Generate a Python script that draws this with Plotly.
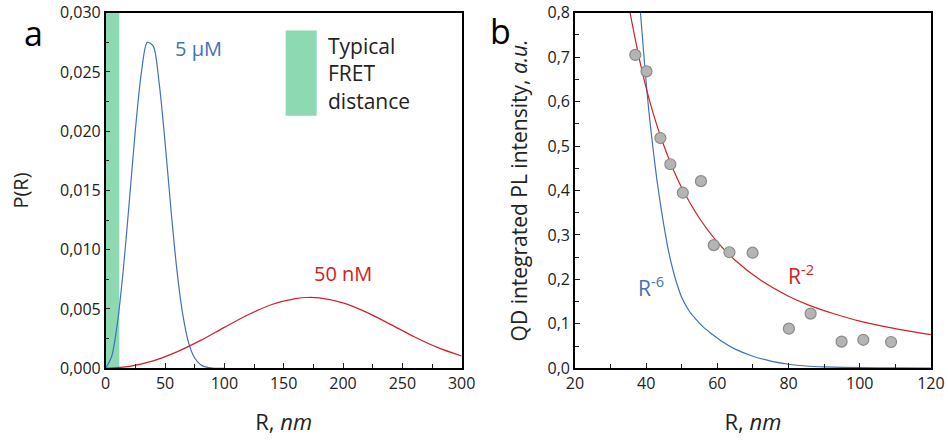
import plotly.graph_objects as go

# ---- Panel a: nearest-neighbour distance distributions P(R) ----
r_a = [0, 5, 10, 15, 20, 25, 30, 35, 40, 45, 50, 55, 60, 65, 70, 75, 80, 85, 90, 95, 100]
p_5uM = [0.0, 0.00099, 0.0039, 0.0085, 0.0142, 0.0201, 0.0249, 0.0275, 0.0272, 0.0241,
         0.0191, 0.0134, 0.0083, 0.0045, 0.0021, 0.00086, 0.0003, 0.00009, 0.00002, 0.0, 0.0]

r_b = [0, 20, 40, 60, 80, 100, 120, 140, 160, 170, 180, 200, 220, 240, 260, 280, 300]
p_50nM = [0.0, 0.00016, 0.00062, 0.00138, 0.00235, 0.00345, 0.00451, 0.00538, 0.00588,
          0.00597, 0.00593, 0.00551, 0.00471, 0.0037, 0.00266, 0.00174, 0.00103]

fret_max_nm = 11.5

# ---- Panel b: QD integrated PL intensity vs R ----
r_meas = [36.95, 40.1, 44.0, 46.8, 50.3, 55.4, 59.0, 63.4, 69.9, 80.1, 86.2, 94.9, 101.0, 108.8]
i_meas = [0.705, 0.668, 0.518, 0.459, 0.395, 0.421, 0.277, 0.261, 0.260, 0.089, 0.123,
          0.060, 0.064, 0.059]

r_fit2 = [35.0, 36.0, 38.0, 40.0, 42.0, 44.0, 47.0, 50.0, 55.0, 60.0, 65.0, 72.0, 80.0,
          86.0, 93.0, 100.0, 110.0, 120.0]
i_fit2 = [0.822, 0.778, 0.699, 0.631, 0.573, 0.523, 0.459, 0.406, 0.337, 0.284, 0.243,
          0.199, 0.162, 0.141, 0.122, 0.106, 0.089, 0.0755]

r_fit6 = [38.0, 38.4, 39.0, 39.6, 40.2, 41.0, 42.0, 43.0, 44.0, 45.0, 46.0, 47.0, 48.0,
          49.0, 50.0, 52.0, 54.0, 56.0, 58.0, 61.0, 65.0, 70.0, 75.0, 80.0, 85.0, 90.0,
          100.0, 110.0, 120.0]
i_fit6 = [0.86, 0.80, 0.74, 0.68, 0.625, 0.56, 0.49, 0.425, 0.37, 0.32, 0.275, 0.238,
          0.207, 0.181, 0.159, 0.13, 0.11, 0.093, 0.080, 0.062, 0.043, 0.027, 0.016,
          0.009, 0.005, 0.003, 0.0012, 0.0006, 0.0003]

BLUE = "#3f72b8"
RED = "#d32027"
GREEN = "#8dd9b2"
FONT = "Open Sans"

fig = go.Figure()

fig.add_trace(go.Scatter(x=r_a, y=p_5uM, mode="lines", line=dict(color=BLUE, width=1.2, shape="spline", smoothing=0.8),
                         xaxis="x", yaxis="y", showlegend=False))
fig.add_trace(go.Scatter(x=r_b, y=p_50nM, mode="lines", line=dict(color=RED, width=1.2, shape="spline", smoothing=0.8),
                         xaxis="x", yaxis="y", showlegend=False))

fig.add_trace(go.Scatter(x=r_fit6, y=i_fit6, mode="lines", line=dict(color=BLUE, width=1.2, shape="spline", smoothing=0.5),
                         xaxis="x2", yaxis="y2", showlegend=False))
fig.add_trace(go.Scatter(x=r_fit2, y=i_fit2, mode="lines", line=dict(color=RED, width=1.2, shape="spline", smoothing=0.6),
                         xaxis="x2", yaxis="y2", showlegend=False))
fig.add_trace(go.Scatter(x=r_meas, y=i_meas, mode="markers",
                         marker=dict(size=11, color="#b4b4b4", line=dict(color="#8a8a8a", width=1.2)),
                         xaxis="x2", yaxis="y2", showlegend=False))

axis_common = dict(showline=True, linecolor="black", linewidth=1.5, mirror=True,
                   ticks="inside", ticklen=5, tickwidth=1.2, tickcolor="#222",
                   showgrid=False, zeroline=False, automargin=False,
                   tickfont=dict(family=FONT, size=16, color="#222"))

fig.update_layout(
    width=948, height=441,
    margin=dict(l=0, r=0, t=0, b=0),
    paper_bgcolor="white", plot_bgcolor="white",
    separators=", ",
    xaxis=dict(domain=[0.1115, 0.487], range=[0, 300], dtick=50, anchor="y",
               minor=dict(ticks="inside", ticklen=4, dtick=25, tickcolor="#222"),
               title=dict(text="R, <i>nm</i>", font=dict(family=FONT, size=22, color="#222"), standoff=21),
               **axis_common),
    yaxis=dict(domain=[0.165, 0.9712], range=[0, 0.030], dtick=0.005, tickformat=".3f", anchor="x",
               minor=dict(ticks="inside", ticklen=4, dtick=0.0025, tickcolor="#222"),
               title=dict(text="P(R)", font=dict(family=FONT, size=20, color="#222"), standoff=26),
               **axis_common),
    xaxis2=dict(domain=[0.6065, 0.982], range=[20, 120], dtick=20, anchor="y2",
                minor=dict(ticks="inside", ticklen=4, dtick=10, tickcolor="#222"),
                title=dict(text="R, <i>nm</i>", font=dict(family=FONT, size=22, color="#222"), standoff=21),
                **axis_common),
    yaxis2=dict(domain=[0.165, 0.9712], range=[0, 0.8], dtick=0.1, tickformat=".1f", anchor="x2",
                minor=dict(ticks="inside", ticklen=4, dtick=0.05, tickcolor="#222"),
                title=dict(text="QD integrated PL intensity, <i>a.u.</i>",
                           font=dict(family=FONT, size=21, color="#222"), standoff=14),
                **axis_common),
)

# FRET-range band and its legend swatch
fig.add_shape(type="rect", xref="x", yref="y domain", x0=0, x1=fret_max_nm, y0=0, y1=1,
              fillcolor=GREEN, line=dict(width=0), layer="below")
fig.add_shape(type="rect", xref="x", yref="y", x0=151.7, x1=177.8, y0=0.0213, y1=0.0285,
              fillcolor=GREEN, line=dict(width=0), layer="below")

ann = [
    dict(text="Typical<br>FRET<br>distance", xref="x", yref="y", x=185.5, y=0.0249,
         xanchor="left", yanchor="middle", align="left",
         font=dict(family=FONT, size=21, color="#222")),
    dict(text="5 μM", xref="x", yref="y", x=78, y=0.0270, xanchor="center", yanchor="middle",
         font=dict(family=FONT, size=20, color=BLUE)),
    dict(text="50 nM", xref="x", yref="y", x=200, y=0.0080, xanchor="center", yanchor="middle",
         font=dict(family=FONT, size=20, color=RED)),
    dict(text="R<sup>-6</sup>", xref="x2", yref="y2", x=41.5, y=0.185, xanchor="center", yanchor="middle",
         font=dict(family=FONT, size=21, color=BLUE)),
    dict(text="R<sup>-2</sup>", xref="x2", yref="y2", x=83.5, y=0.21, xanchor="center", yanchor="middle",
         font=dict(family=FONT, size=21, color=RED)),
    dict(text="a", xref="paper", yref="paper", x=33 / 948, y=1 - 33 / 441, xanchor="center", yanchor="middle",
         font=dict(family=FONT, size=34, color="black")),
    dict(text="b", xref="paper", yref="paper", x=500 / 948, y=1 - 31 / 441, xanchor="center", yanchor="middle",
         font=dict(family=FONT, size=34, color="black")),
]
for a in ann:
    a.setdefault("showarrow", False)
    fig.add_annotation(**a)

fig.write_html("out.html")
